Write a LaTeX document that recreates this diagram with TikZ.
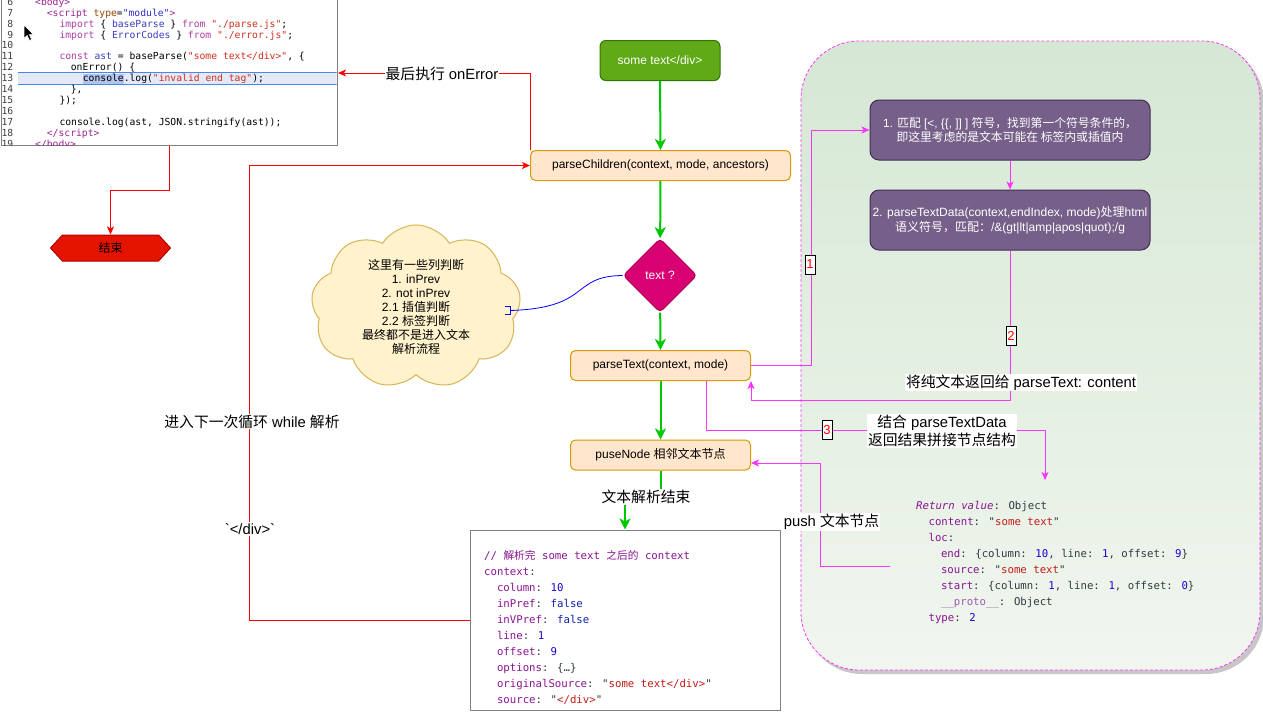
\documentclass[tikz,border=0pt]{standalone}
\usepackage{fontspec}
\setmainfont{Liberation Sans}
\newfontfamily\sans{Liberation Sans}
\newfontfamily\zhfont{Noto Sans CJK SC}
\newfontfamily\mono{DejaVu Sans Mono}
\newcommand\zh[1]{{\zhfont #1}}
\newcommand\ind[1]{\hspace*{#1}}
\usetikzlibrary{arrows.meta,shapes.geometric,shapes.symbols,calc}

\definecolor{orangefill}{HTML}{FFE6CC}
\definecolor{orangeline}{HTML}{D79B00}
\definecolor{greenfill}{HTML}{60A917}
\definecolor{greenline}{HTML}{2D7600}
\definecolor{diafill}{HTML}{D80073}
\definecolor{dialine}{HTML}{A50040}
\definecolor{purfill}{HTML}{76608A}
\definecolor{purline}{HTML}{432D57}
\definecolor{endfill}{HTML}{E51400}
\definecolor{endline}{HTML}{B20000}
\definecolor{cloudfill}{HTML}{FFF2CC}
\definecolor{cloudline}{HTML}{D6B656}
\definecolor{flowgreen}{HTML}{00C800}
\definecolor{mag}{HTML}{FF33FF}
\definecolor{regtop}{HTML}{D5E8D4}
\definecolor{regbot}{HTML}{F1F6EF}
\definecolor{boxgray}{HTML}{808080}
% editor syntax colours
\definecolor{ckw}{HTML}{AD3DA4}
\definecolor{cid}{HTML}{3B3BC4}
\definecolor{cstr}{HTML}{D12F1B}
\definecolor{ctag}{HTML}{9B2393}
\definecolor{cattr}{HTML}{994500}
\definecolor{cattrv}{HTML}{2D2DCE}
\definecolor{hlband}{HTML}{E3E9F8}
\definecolor{hlline}{HTML}{4A86E8}
\definecolor{hlsel}{HTML}{B3C5EC}
% console colours
\definecolor{kp}{HTML}{881391}
\definecolor{sr}{HTML}{C41A16}
\definecolor{nb}{HTML}{1C00CF}
\definecolor{bf}{HTML}{0D22AA}
\definecolor{kl}{HTML}{A05BB0}
\definecolor{tx}{HTML}{303942}

\newcommand\codefont{\mono\fontsize{9.7}{11}\selectfont}

\begin{document}
\begin{tikzpicture}[x=1pt,y=-1pt,
  flow/.style={rectangle, rounded corners=5pt, draw=orangeline, fill=orangefill, line width=1pt,
    font=\sans\fontsize{12}{14}\selectfont, inner sep=0pt, minimum height=30pt},
  startbox/.style={rectangle, rounded corners=6pt, draw=greenline, fill=greenfill, line width=1pt,
    text=white, font=\sans\fontsize{12}{14}\selectfont, inner sep=0pt, minimum width=120pt, minimum height=40pt},
  decide/.style={diamond, aspect=1, rounded corners=4pt, draw=dialine, fill=diafill, line width=0.8pt,
    text=white, font=\sans\fontsize{12}{14}\selectfont, inner sep=0pt, minimum width=74pt, minimum height=74pt},
  purbox/.style={rectangle, rounded corners=9pt, draw=purline, fill=purfill, line width=1pt,
    text=white, align=center, inner sep=0pt, minimum width=280pt, minimum height=60pt},
  endbox/.style={signal, signal to=west and east, signal pointer angle=95, draw=endline, fill=endfill,
    line width=1pt, font=\zhfont\fontsize{12}{14}\selectfont, inner sep=0pt, minimum width=120pt, minimum height=26pt},
  note/.style={cloud, cloud puffs=9, cloud puff arc=115, aspect=1.45, draw=cloudline, fill=cloudfill,
    line width=1pt, align=center, inner sep=0pt, minimum width=205pt, minimum height=145pt},
  plain/.style={rectangle, draw=boxgray, line width=1pt, fill=white, inner sep=0pt},
  lbl/.style={fill=white, inner sep=1pt, align=center, font=\sans\fontsize{14.8}{18.5}\selectfont},
  tag/.style={draw=black, fill=white, text=red, line width=0.8pt, inner sep=0pt,
    minimum width=10pt, minimum height=19pt, font=\sans\fontsize{13}{13}\selectfont},
  codeline/.style={anchor=base west, inner sep=0pt, font=\codefont},
  lineno/.style={anchor=base east, inner sep=0pt, font=\codefont, text=black!75},
  garrow/.style={draw=flowgreen, line width=2pt, -{Stealth[length=11pt,width=11pt,inset=3pt]}},
  rarrow/.style={draw=red, line width=1pt, -{Stealth[length=8pt,width=7pt,inset=2pt]}},
  marrow/.style={draw=mag, line width=1pt, -{Stealth[length=8pt,width=7pt,inset=2pt]}},
  consoletext/.style={anchor=north west, align=left, inner sep=0pt, text=tx,
    font=\mono\fontsize{10.7}{16}\selectfont}
]
\useasboundingbox (0,0) rectangle (1263,720);
\fill[white] (0,0) rectangle (1263,720);

% ---------- green working area ----------
\fill[black!22, rounded corners=58pt] (804,45) rectangle (1264,674);
\shade[top color=regtop, bottom color=regbot, rounded corners=58pt] (801,41) rectangle (1260,670);
\draw[mag, line width=0.8pt, dash pattern=on 3pt off 2pt, rounded corners=58pt] (801,41) rectangle (1260,670);

% ---------- source code panel ----------
\node[plain, anchor=south west, minimum width=336pt, minimum height=150pt] (code) at (1,146) {};
\begin{scope}
\clip (1.5,0) rectangle (336.5,145.5);
\fill[hlband] (18,72.5) rectangle (336.5,84.5);
\draw[hlline, line width=1pt] (18,72.5) -- (336.5,72.5) (18,84.5) -- (336.5,84.5);
\fill[hlsel] (82.7,73.5) rectangle (123.6,83.5);
\foreach \n [count=\i from 0] in {6,...,19}
  \node[lineno] (ln\n) at (13.5,{1.75+3.4+\i*10.95}) {\n};
\node[codeline] (c6)  at (35,5.15)    {\textcolor{ctag}{<body>}};
\node[codeline] (c7)  at (46.7,16.1)  {\textcolor{ctag}{<script} \textcolor{cattr}{type}=\textcolor{cattrv}{"module"}\textcolor{ctag}{>}};
\node[codeline] (c8)  at (59.3,27.05) {\textcolor{ckw}{import} \{ \textcolor{cid}{baseParse} \} \textcolor{ckw}{from} \textcolor{cstr}{"./parse.js"};};
\node[codeline] (c9)  at (59.3,38)    {\textcolor{ckw}{import} \{ \textcolor{cid}{ErrorCodes} \} \textcolor{ckw}{from} \textcolor{cstr}{"./error.js"};};
\node[codeline] (c11) at (59.3,59.9)  {\textcolor{ckw}{const} \textcolor{cid}{ast} = baseParse(\textcolor{cstr}{"some text</div>"}, \{};
\node[codeline] (c12) at (70.7,70.85) {onError() \{};
\node[codeline] (c13) at (82.7,81.8)  {console.log(\textcolor{cstr}{"invalid end tag"});};
\node[codeline] (c14) at (70.7,92.75) {\},};
\node[codeline] (c15) at (59.3,103.7) {\});};
\node[codeline] (c17) at (59.3,125.6) {console.log(ast, JSON.stringify(ast));};
\node[codeline] (c18) at (46.7,136.55){\textcolor{ctag}{</script>}};
\node[codeline] (c19) at (35,147.5)   {\textcolor{ctag}{</body>}};
\end{scope}
% pointer arrow
\filldraw[fill=black, draw=white, line width=0.6pt]
  (24,25) -- (24,38.5) -- (27.2,35.5) -- (29.5,40.5) -- (31.6,39.5) -- (29.4,34.7) -- (33.6,34.7) -- cycle;

% ---------- main flow ----------
\node[startbox] (start) at (660,60.5) {some text</div>};
\node[flow, minimum width=260pt] (pchild) at (660.5,165.5) {parseChildren(context, mode, ancestors)};
\node[decide] (dia) at (660,275.5) {text ?};
\node[flow, minimum width=180pt] (ptext) at (660.5,365.5) {parseText(context, mode)};
\node[flow, minimum width=180pt] (pnode) at (660.5,455) {puseNode \zh{相邻文本节点}};
\node[endbox] (end) at (110.5,248) {结束};

\node[note, font=\sans\fontsize{12}{14.1}\selectfont] (cloud) at (416,307)
  {\zh{这里有一些列判断}\\1. inPrev\\2. not inPrev\\2.1 \zh{插值判断}\\2.2 \zh{标签判断}\\\zh{最终都不是进入文本}\\\zh{解析流程}};

\node[purbox, font=\sans\fontsize{11.8}{14}\selectfont] (p1) at (1010,130)
  {1. \zh{匹配} [<, \{\{, ]] ] \zh{符号，找到第一个符号条件的，}\\\zh{即这里考虑的是文本可能在 标签内或插值内}};
\node[purbox, font=\sans\fontsize{12}{15}\selectfont] (p2) at (1010,220)
  {2. parseTextData(context,endIndex, mode)\zh{处理}html\\\zh{语义符号，匹配：}/\&(gt|lt|amp|apos|quot);/g};

% ---------- context panel ----------
\node[plain, minimum width=310pt, minimum height=180pt] (ctx) at (625,620) {};
\node[consoletext] (ctxtext) at (484,548) {%
  \rule{0pt}{11pt}\textcolor{kp}{// \zh{解析完} some text \zh{之后的} context}\\
  \textcolor{kp}{context}:\\
  \ind{12.8pt}\textcolor{kp}{column}: \textcolor{nb}{10}\\
  \ind{12.8pt}\textcolor{kp}{inPref}: \textcolor{bf}{false}\\
  \ind{12.8pt}\textcolor{kp}{inVPref}: \textcolor{bf}{false}\\
  \ind{12.8pt}\textcolor{kp}{line}: \textcolor{nb}{1}\\
  \ind{12.8pt}\textcolor{kp}{offset}: \textcolor{nb}{9}\\
  \ind{12.8pt}\textcolor{kp}{options}: \{…\}\\
  \ind{12.8pt}\textcolor{kp}{originalSource}: "\textcolor{sr}{some text</div>}"\\
  \ind{12.8pt}\textcolor{kp}{source}: "\textcolor{sr}{</div>}"};

% ---------- return value ----------
\node[consoletext] (ret) at (916,498) {%
  \rule{0pt}{11pt}\textcolor{kp}{\itshape Return value}: Object\\
  \ind{12.4pt}\textcolor{kp}{content}: "\textcolor{sr}{some text}"\\
  \ind{12.4pt}\textcolor{kp}{loc}:\\
  \ind{24.8pt}\textcolor{kp}{end}: \{column: \textcolor{nb}{10}, line: \textcolor{nb}{1}, offset: \textcolor{nb}{9}\}\\
  \ind{24.8pt}\textcolor{kp}{source}: "\textcolor{sr}{some text}"\\
  \ind{24.8pt}\textcolor{kp}{start}: \{column: \textcolor{nb}{1}, line: \textcolor{nb}{1}, offset: \textcolor{nb}{0}\}\\
  \ind{24.8pt}\textcolor{kl}{\_\_proto\_\_}: Object\\
  \ind{12.4pt}\textcolor{kp}{type}: \textcolor{nb}{2}};
\coordinate (retin) at (1045,480);
\coordinate (pushsrc) at (890,566);
\coordinate (errin) at (code.east |- 0,73);
\coordinate (bracket) at (510,310.5);

% ---------- connectors ----------
\draw[garrow] (start) -- (pchild);
\draw[garrow] (pchild) -- (dia);
\draw[garrow] (dia) -- (ptext);
\draw[garrow] (ptext) -- (pnode);
\draw[garrow] (pnode.south) -- ++(0,28) -| (ctx.north);

\draw[rarrow] (pchild.north west) |- (errin);
\draw[rarrow] (code.south) -- ++(0,44) -| (end.north);
\draw[rarrow] (ctx.west) -- ++(-220,0) |- (pchild.west);

\draw[blue, line width=0.8pt] (dia.west) .. controls (570,276) and (592,308) .. (bracket);
\draw[blue, line width=0.8pt] ($(bracket)+(-5,-4)$) -- ++(5,0) -- ++(0,8) -- ++(-5,0);

\draw[marrow] (ptext.east) -- ++(60,0) |- (p1.west);
\draw[marrow] (p1) -- (p2);
\draw[marrow] (p2.south) -- ++(0,150) -| (ptext.south east);
\draw[marrow] ($(ptext.south)+(45.5,0)$) -- ++(0,49.5) -| (retin);
\draw[marrow] (pushsrc) -- ++(-70,0) |- ($(pnode.east)+(0,8)$);

% ---------- labels ----------
\node[lbl] (lerr) at (442,74) {\zh{最后执行} onError};
\node[lbl] (lloop) at (252,421.5) {\zh{进入下一次循环} while \zh{解析}};
\node[lbl] (ldiv) at (250,529) {`</div>`};
\node[lbl] (ldone) at (646,497) {\zh{文本解析结束}};
\node[lbl] (lback) at (1021,382.5) {\zh{将纯文本返回给} parseText: content};
\node[lbl] (lmerge) at (942,431) {\zh{结合} parseTextData\\\zh{返回结果拼接节点结构}};
\node[lbl] (lpush) at (831.5,522) {push \zh{文本节点}};
\node[tag] (t1) at (810,264.5) {1};
\node[tag] (t2) at (1011,335.5) {2};
\node[tag] (t3) at (827,430) {3};
\end{tikzpicture}
\end{document}
